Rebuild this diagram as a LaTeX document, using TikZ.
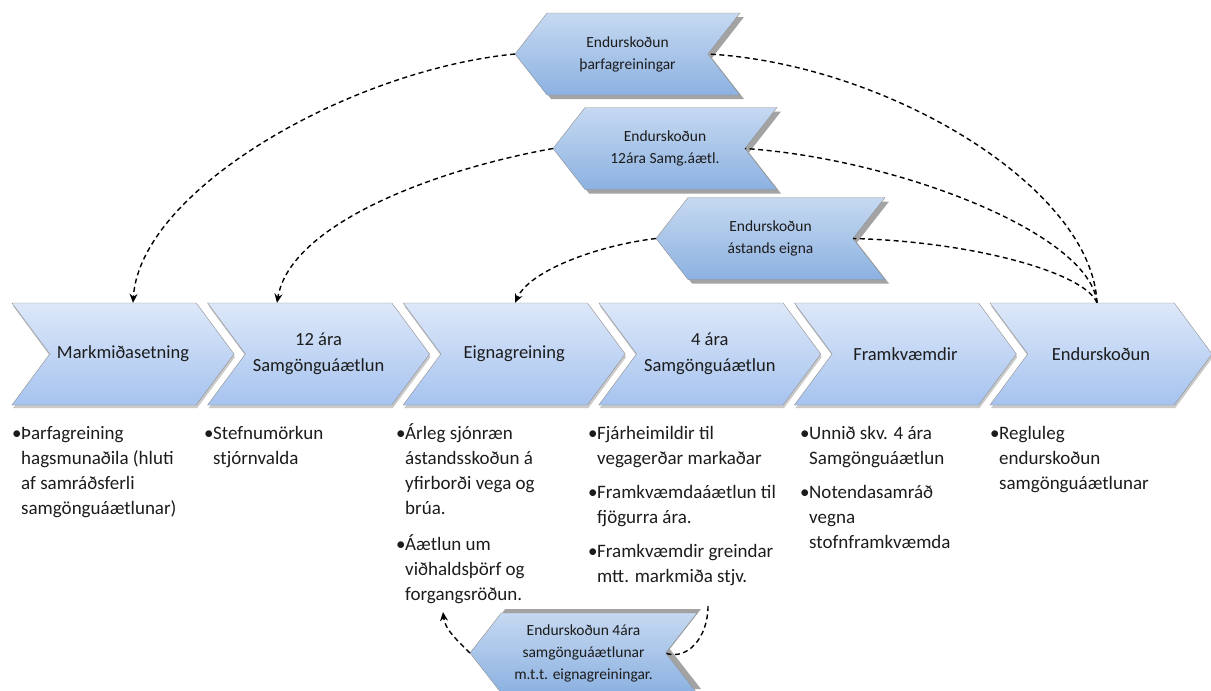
\documentclass[tikz,border=0pt]{standalone}
\usepackage{fontspec}
\setmainfont{Carlito}
\usepackage{xcolor}
\usepackage{tikz}
\usetikzlibrary{arrows.meta,shapes.symbols,shadows,calc}
\definecolor{phasetop}{HTML}{DDE8F9}
\definecolor{phasebot}{HTML}{A6C3EF}
\definecolor{revtop}{HTML}{C6D9F1}
\definecolor{revbot}{HTML}{8CB1E1}
\definecolor{rim}{HTML}{8E8E8E}
\definecolor{ink}{HTML}{1C1C1C}
\newcommand{\bul}{\strut\makebox[9pt][l]{\textbullet}}
\newcommand{\ind}{\hspace*{9pt}}

\begin{document}
\begin{tikzpicture}[
  x=1pt,y=-1pt,
  font=\fontsize{18.5}{26}\selectfont,
  phase/.style={signal,signal from=west,signal to=east,signal pointer angle=107,draw=rim,top color=phasetop,bottom color=phasebot,text=ink,align=center,minimum width=222pt,minimum height=102pt,inner sep=2pt,drop shadow={shadow xshift=1pt,shadow yshift=-3pt,fill=black!35,opacity=.6}},
  review/.style={signal,signal from=east,signal to=west,signal pointer angle=104,draw=rim,top color=revtop,bottom color=revbot,text=ink,align=center,font=\fontsize{15.5}{22}\selectfont,minimum width=225pt,minimum height=82pt,inner sep=2pt},
  dropsh/.style={drop shadow={shadow xshift=4pt,shadow yshift=#1,fill=black!45,opacity=.8}},
  dropsh/.default=-4pt,
  bullets/.style={anchor=north west,align=left,text=ink,inner sep=0pt,font=\fontsize{19}{25}\selectfont},
  loop/.style={dash pattern=on 5pt off 3.5pt,line width=1.4pt},
  arr/.style={loop,-{Stealth[length=9pt,width=8pt,inset=3pt]}}
]
\useasboundingbox (0,0) rectangle (1211,691);

% main row
\node[phase] (markmid) at (123,354) {Markmiðasetning};
\node[phase] (aetlun12) at (318.6,354) {12 ára\\Samgönguáætlun};
\node[phase] (eignir) at (514.2,354) {Eignagreining};
\node[phase] (aetlun4) at (709.8,354) {4 ára\\Samgönguáætlun};
\node[phase] (framkv) at (905.4,354) {Framkvæmdir};
\node[phase] (endursk) at (1101,354) {Endurskoðun};

% review steps
\node[review,dropsh] (rthorf) at (627.5,54) {Endurskoðun\\þarfagreiningar};
\node[review,dropsh,minimum width=224pt] (r12) at (665,148.5) {Endurskoðun\\12ára Samg.áætl.};
\node[review,dropsh,minimum width=229pt] (rastand) at (770.5,238.5) {Endurskoðun\\ástands eigna};
\node[review,dropsh=4pt,minimum width=227pt,minimum height=80pt] (r4) at (583.5,653) {Endurskoðun 4ára\\samgönguáætlunar\\m.t.t. eignagreiningar.};

% bullet texts
\node[bullets] (txmark) at (12,422) {\bul Þarfagreining\\\ind hagsmunaðila (hluti\\\ind af samráðsferli\\\ind samgönguáætlunar)};
\node[bullets] (tx12) at (204,422) {\bul Stefnumörkun\\\ind stjórnvalda};
\node[bullets] (txeign) at (396,422) {\bul Árleg sjónræn\\\ind ástandsskoðun á\\\ind yfirborði vega og\\\ind brúa.\\[11pt]\bul Áætlun um\\\ind viðhaldsþörf og\\\ind forgangsröðun.};
\node[bullets] (tx4) at (588,422) {\bul Fjárheimildir til\\\ind vegagerðar markaðar\\[9pt]\bul Framkvæmdaáætlun til\\\ind fjögurra ára.\\[9pt]\bul Framkvæmdir greindar\\\ind mtt. markmiða stjv.};
\node[bullets] (txframk) at (800,422) {\bul Unnið skv. 4 ára\\\ind Samgönguáætlun\\[9pt]\bul Notendasamráð\\\ind vegna\\\ind stofnframkvæmda};
\node[bullets] (txend) at (990,422) {\bul Regluleg\\\ind endurskoðun\\\ind samgönguáætlunar};

\coordinate (c4end) at (708,606);
\coordinate (c3tip) at (443,612);

% feedback loops
\draw[arr] ([xshift=-112.5pt]rthorf.center) .. controls +(-165,16) and +(7,-113) .. ([xshift=10pt]markmid.north);
\draw[arr] ([xshift=-112pt]r12.center) .. controls +(-120,21.5) and +(13,-78) .. ([xshift=-41.6pt]aetlun12.north);
\draw[arr] ([xshift=-114.5pt]rastand.center) .. controls +(-56,6.5) and +(15,-33) .. ([xshift=0.8pt]eignir.north);
\draw[loop] ([xshift=-4pt]endursk.north) .. controls +(-5,-115) and +(180,10) .. ([xshift=80.5pt]rthorf.center);
\draw[loop] ([xshift=-4pt]endursk.north) .. controls +(-7,-70) and +(150,10) .. ([xshift=80pt]r12.center);
\draw[loop] ([xshift=-4pt]endursk.north) .. controls +(-12,-30) and +(120,3) .. ([xshift=82.5pt]rastand.center);
\draw[loop] (c4end) .. controls +(0,32) and +(22,8) .. ([xshift=81.5pt]r4.center);
\draw[arr] ([xshift=-113.5pt]r4.center) .. controls +(-12,-12) and +(2,18) .. (c3tip);
\end{tikzpicture}
\end{document}
